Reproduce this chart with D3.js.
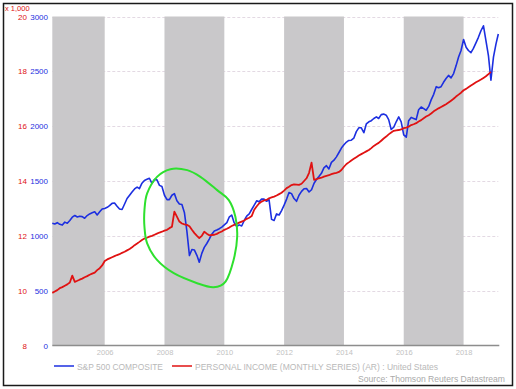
<!DOCTYPE html>
<html>
<head>
<meta charset="utf-8">
<script src="https://cdn.jsdelivr.net/npm/d3@7"></script>
<style>
  body { margin: 0; background: #fff; }
  svg { font-family: "Liberation Sans", Arial, sans-serif; }
</style>
</head>
<body>
<div id="chart"></div>
<script>
// monthly series, first value is April 2004
const startMonth = [2004, 3];

const spValues = [
  1115, 1108, 1120, 1105, 1098, 1125, 1115, 1140, 1170,
  1185, 1172, 1178, 1175, 1160, 1185, 1200, 1210, 1219, 1190, 1220, 1245,
  1250, 1260, 1275, 1296, 1300, 1270, 1245, 1240, 1290, 1340, 1370, 1400,
  1428, 1445, 1430, 1480, 1505, 1515, 1525, 1478, 1515, 1510, 1460, 1450,
  1370, 1330, 1330, 1370, 1385, 1320, 1290, 1285, 1210, 1040, 820, 875,
  870, 820, 760, 840, 895, 930, 970, 1015, 1045, 1053, 1065, 1080,
  1100, 1120, 1170, 1190, 1120, 1085, 1100, 1090, 1140, 1180, 1200, 1240,
  1280, 1320, 1310, 1335, 1335, 1315, 1330, 1150, 1140, 1200, 1190, 1230,
  1280, 1335, 1395, 1385, 1340, 1315, 1370, 1405, 1430, 1432, 1400, 1420,
  1480, 1515, 1540, 1570, 1620, 1640, 1610, 1670, 1690, 1720, 1760, 1800,
  1830, 1855, 1870, 1872, 1890, 1950, 1985, 1985, 1940, 2020, 2040, 2050,
  2070, 2085, 2070, 2105, 2110, 2100, 2060, 1970, 1990, 2040, 2084, 2040,
  1920, 1900, 2050, 2080, 2070, 2060, 2150, 2175, 2160, 2145, 2180, 2240,
  2290, 2360, 2350, 2360, 2400, 2435, 2463, 2440, 2480, 2550, 2630, 2690,
  2790, 2720, 2690, 2670, 2710, 2760, 2810, 2870, 2915, 2780, 2640, 2420,
  2630, 2750, 2840
];

const incomeValues = [
  9.92, 9.97, 10.02, 10.09, 10.13, 10.18, 10.23, 10.30, 10.55,
  10.32, 10.36, 10.40, 10.44, 10.49, 10.53, 10.58, 10.62, 10.66, 10.75, 10.82, 10.92,
  11.08, 11.14, 11.18, 11.22, 11.26, 11.30, 11.33, 11.38, 11.42, 11.47, 11.52, 11.58,
  11.66, 11.72, 11.78, 11.85, 11.90, 11.93, 11.97, 12.00, 12.04, 12.08, 12.12, 12.15,
  12.19, 12.22, 12.28, 12.33, 12.88, 12.70, 12.52, 12.45, 12.42, 12.40, 12.35, 12.22,
  12.10, 12.00, 11.92, 12.00, 12.15, 12.08, 12.02, 12.03, 12.04, 12.07, 12.12, 12.16,
  12.22, 12.26, 12.30, 12.36, 12.40, 12.44, 12.48, 12.52, 12.56, 12.62, 12.66, 12.72,
  12.95, 13.08, 13.18, 13.25, 13.29, 13.31, 13.37, 13.40, 13.43, 13.47, 13.52, 13.57,
  13.65, 13.74, 13.79, 13.85, 13.88, 13.87, 13.86, 13.90, 14.00, 14.10, 14.30, 14.67,
  14.04, 14.07, 14.10, 14.12, 14.16, 14.19, 14.21, 14.25, 14.28, 14.30, 14.33, 14.40,
  14.52, 14.62, 14.68, 14.75, 14.81, 14.87, 14.93, 14.98, 15.03, 15.08, 15.13, 15.20,
  15.28, 15.34, 15.39, 15.47, 15.55, 15.62, 15.70, 15.77, 15.83, 15.85, 15.86, 15.88,
  15.93, 15.95, 15.98, 16.04, 16.07, 16.11, 16.17, 16.22, 16.29, 16.35, 16.40, 16.46,
  16.54, 16.60, 16.65, 16.70, 16.75, 16.80, 16.86, 16.93, 17.00, 17.08, 17.15, 17.22,
  17.31, 17.36, 17.42, 17.48, 17.54, 17.60, 17.65, 17.70, 17.76, 17.82, 17.90, 17.98
];

const spTicks = [0, 500, 1000, 1500, 2000, 2500, 3000];
const incomeTicks = [8, 10, 12, 14, 16, 18, 20];
const yearTicks = [2006, 2008, 2010, 2012, 2014, 2016, 2018];
const shadedYears = [[2004, 2006], [2008, 2010], [2012, 2014], [2016, 2018]];

// hand drawn ring, as [decimal year, S&P level]
const ring = [
  [2007.33, 1235], [2007.42, 1387], [2007.75, 1538], [2008.20, 1608],
  [2008.76, 1599], [2009.20, 1538], [2009.76, 1417], [2010.15, 1326],
  [2010.37, 1174], [2010.43, 992], [2010.31, 780], [2010.04, 582],
  [2009.64, 531], [2009.09, 568], [2008.31, 659], [2007.75, 780],
  [2007.42, 932], [2007.33, 1083]
];

const legendNames = ["S&P 500 COMPOSITE", "PERSONAL INCOME (MONTHLY SERIES) (AR) : United States"];
const sourceText = "Source: Thomson Reuters Datastream";

const W = 516, H = 389;
const blue = "#1c2fe0", red = "#e01212";

const monthDate = i => new Date(startMonth[0], startMonth[1] + i, 1);
const yearDate = y => {
  const whole = Math.floor(y);
  const a = new Date(whole, 0, 1), b = new Date(whole + 1, 0, 1);
  return new Date(+a + (y - whole) * (b - a));
};

const sp = spValues.map((v, i) => ({date: monthDate(i), value: v}));
const income = incomeValues.map((v, i) => ({date: monthDate(i), value: v}));

const svg = d3.select("#chart")
              .append("svg")
              .attr("width", W)
              .attr("height", H);

const xScale = d3.scaleTime()
                 .domain([monthDate(0), monthDate(spValues.length - 1)])
                 .range([52.3, 498.3]);
const ySp = d3.scaleLinear()
              .domain([0, 3000])
              .range([345.5, 16.5]);
const yIncome = d3.scaleLinear()
                  .domain([8, 20])
                  .range([345.5, 16.5]);

svg.append("rect")
   .attr("x", 3.5)
   .attr("y", 3.5)
   .attr("width", 509)
   .attr("height", 382)
   .attr("fill", "none")
   .attr("stroke", "#1a1a1a")
   .attr("stroke-width", 1.5);

svg.append("g")
   .selectAll("line")
   .data(spTicks.slice(1))
   .enter()
   .append("line")
   .attr("x1", xScale.range()[0])
   .attr("x2", xScale.range()[1])
   .attr("y1", d => Math.round(ySp(d)) + 0.5)
   .attr("y2", d => Math.round(ySp(d)) + 0.5)
   .attr("stroke", "#e3d9e3")
   .attr("stroke-dasharray", "3,2");

svg.append("g")
   .selectAll("rect")
   .data(shadedYears)
   .enter()
   .append("rect")
   .attr("x", d => Math.max(xScale(yearDate(d[0])), xScale.range()[0]))
   .attr("width", d => xScale(yearDate(d[1])) - Math.max(xScale(yearDate(d[0])), xScale.range()[0]))
   .attr("y", ySp(3000))
   .attr("height", ySp(0) - ySp(3000))
   .attr("fill", "#c9c8ca");

const xAxis = d3.axisBottom(xScale)
                .tickValues(yearTicks.map(yearDate))
                .tickFormat(d3.timeFormat("%Y"))
                .tickSize(0)
                .tickPadding(4);
const drawX = svg.append("g")
                 .attr("transform", `translate(0, ${ySp(0)})`)
                 .call(xAxis);
drawX.select(".domain")
     .attr("d", `M${xScale.range()[0]},0H${xScale.range()[1] + 1}`)
     .attr("stroke", "#8d8d8d")
     .attr("stroke-width", 1.5);
drawX.selectAll("text")
     .attr("fill", "#c2c2c2")
     .style("font-size", "7.5px");

const spAxis = d3.axisLeft(ySp)
                 .tickValues(spTicks)
                 .tickSize(0)
                 .tickPadding(2)
                 .tickFormat(d3.format("d"));
const drawSp = svg.append("g")
                  .attr("transform", "translate(50, 0)")
                  .call(spAxis);
drawSp.select(".domain").remove();
drawSp.selectAll("text")
      .attr("fill", blue)
      .style("font-size", "8px");

const incomeAxis = d3.axisLeft(yIncome)
                     .tickValues(incomeTicks)
                     .tickSize(0)
                     .tickPadding(2)
                     .tickFormat(d3.format("d"));
const drawIncome = svg.append("g")
                      .attr("transform", "translate(29, 0)")
                      .call(incomeAxis);
drawIncome.select(".domain").remove();
drawIncome.selectAll("text")
          .attr("fill", red)
          .style("font-size", "8px");

svg.append("text")
   .attr("x", 5)
   .attr("y", 11)
   .attr("fill", red)
   .style("font-size", "7.5px")
   .text("x 1,000");

const spLine = d3.line()
                 .x(d => xScale(d.date))
                 .y(d => ySp(d.value));
const incomeLine = d3.line()
                     .x(d => xScale(d.date))
                     .y(d => yIncome(d.value));

svg.append("path")
   .datum(sp)
   .attr("d", spLine)
   .attr("fill", "none")
   .attr("stroke", blue)
   .attr("stroke-width", 1.6)
   .attr("stroke-linejoin", "round");

svg.append("path")
   .datum(income)
   .attr("d", incomeLine)
   .attr("fill", "none")
   .attr("stroke", red)
   .attr("stroke-width", 1.8)
   .attr("stroke-linejoin", "round");

const ringLine = d3.line()
                   .x(d => xScale(yearDate(d[0])))
                   .y(d => ySp(d[1]))
                   .curve(d3.curveCardinalClosed);
svg.append("path")
   .datum(ring)
   .attr("d", ringLine)
   .attr("fill", "none")
   .attr("stroke", "#2ee02e")
   .attr("stroke-width", 2);

const legend = svg.append("g")
                  .attr("transform", "translate(0, 366)");
const legendX = [54, 172];
const legendWidths = [86, 243];
legend.selectAll("line")
      .data(legendNames)
      .enter()
      .append("line")
      .attr("x1", (d, i) => legendX[i])
      .attr("x2", (d, i) => legendX[i] + 20)
      .attr("y1", 0)
      .attr("y2", 0)
      .attr("stroke", (d, i) => i === 0 ? blue : red)
      .attr("stroke-width", 1.5);
legend.selectAll("text")
      .data(legendNames)
      .enter()
      .append("text")
      .attr("x", (d, i) => legendX[i] + 23)
      .attr("y", 3.5)
      .attr("fill", "#b9b9b9")
      .attr("textLength", (d, i) => legendWidths[i])
      .attr("lengthAdjust", "spacingAndGlyphs")
      .style("font-size", "9.5px")
      .text(d => d);

svg.append("text")
   .attr("x", 505)
   .attr("y", 382)
   .attr("text-anchor", "end")
   .attr("fill", "#aaaaaa")
   .style("font-size", "8.6px")
   .text(sourceText);
</script>
</body>
</html>
